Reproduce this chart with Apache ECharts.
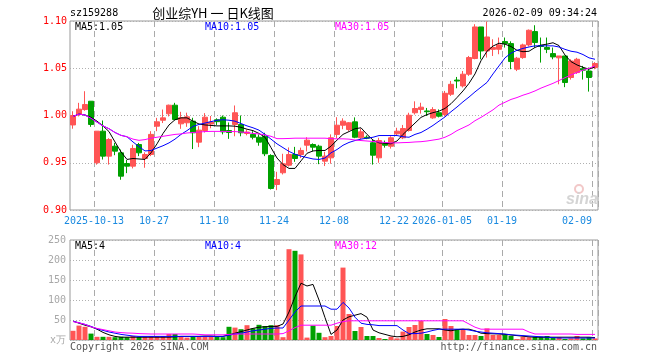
<!DOCTYPE html>
<html>
<head>
<meta charset="utf-8">
<script src="https://cdn.jsdelivr.net/npm/echarts@6/dist/echarts.min.js"></script>
<style>html,body{margin:0;padding:0;background:#fff;}#c{width:660px;height:360px;}</style>
</head>
<body>
<div id="c"></div>
<script>
const dates = ['2025-09-29','2025-09-30','2025-10-09','2025-10-10',
'2025-10-13','2025-10-14','2025-10-15','2025-10-16','2025-10-17',
'2025-10-20','2025-10-21','2025-10-22','2025-10-23','2025-10-24',
'2025-10-27','2025-10-28','2025-10-29','2025-10-30','2025-10-31',
'2025-11-03','2025-11-04','2025-11-05','2025-11-06','2025-11-07',
'2025-11-10','2025-11-11','2025-11-12','2025-11-13','2025-11-14',
'2025-11-17','2025-11-18','2025-11-19','2025-11-20','2025-11-21',
'2025-11-24','2025-11-25','2025-11-26','2025-11-27','2025-11-28',
'2025-12-01','2025-12-02','2025-12-03','2025-12-04','2025-12-05',
'2025-12-08','2025-12-09','2025-12-10','2025-12-11','2025-12-12',
'2025-12-15','2025-12-16','2025-12-17','2025-12-18','2025-12-19',
'2025-12-22','2025-12-23','2025-12-24','2025-12-25','2025-12-26',
'2025-12-29','2025-12-30','2025-12-31',
'2026-01-05','2026-01-06','2026-01-07','2026-01-08','2026-01-09',
'2026-01-12','2026-01-13','2026-01-14','2026-01-15','2026-01-16',
'2026-01-19','2026-01-20','2026-01-21','2026-01-22','2026-01-23',
'2026-01-26','2026-01-27','2026-01-28','2026-01-29','2026-01-30',
'2026-02-02','2026-02-03','2026-02-04','2026-02-05','2026-02-06',
'2026-02-09'];

const open = [0.990,1.001,1.0063,1.0151,0.950,0.9834,0.957,0.9675,0.9605,0.9492,
0.9464,0.9693,0.9545,0.9587,0.9887,0.995,1.0018,1.0109,0.9912,0.9923,
0.994,0.9718,0.9841,0.991,0.9955,0.9982,0.9841,0.9905,0.9905,0.981,
0.980,0.977,0.978,0.9577,0.927,0.9394,0.9474,0.9587,0.9587,0.9686,
0.9693,0.9675,0.9517,0.9552,0.980,0.9897,0.9852,0.9933,0.9764,0.977,
0.9711,0.9552,0.970,0.9675,0.9806,0.9764,0.9841,1.0029,1.0064,1.0048,
0.9975,1.0029,1.001,1.0225,1.0375,1.0313,1.0437,1.0603,1.0937,1.0683,
1.070,1.0701,1.0782,1.0761,1.049,1.0613,1.0747,1.0888,1.074,1.072,
1.0655,1.061,1.063,1.0402,1.0454,1.0495,1.0471,1.0507];

const close = [1.000,1.0067,1.0116,0.9905,0.9834,0.957,0.9746,0.9623,0.9358,0.9464,
0.9651,0.9605,0.9587,0.980,0.9933,0.9975,1.0109,0.9958,0.9976,0.9986,
0.9817,0.9845,0.9982,0.993,0.9935,0.9827,0.982,1.0029,0.9817,0.9825,
0.977,0.9718,0.9595,0.9228,0.9323,0.9489,0.9587,0.9545,0.963,0.9739,
0.9665,0.957,0.957,0.9764,0.9897,0.994,0.9923,0.977,0.9827,0.976,
0.958,0.9735,0.9685,0.9764,0.9834,0.9862,1.0003,1.0074,1.0088,1.004,
1.0063,0.9993,1.0235,1.033,1.0365,1.0437,1.0613,1.0937,1.0683,1.0831,
1.072,1.0747,1.0761,1.0571,1.0606,1.0747,1.0902,1.0772,1.073,1.070,
1.062,1.063,1.0349,1.0577,1.0595,1.048,1.0402,1.055];

const low = [0.986,0.999,1.005,0.988,0.948,0.9534,0.948,0.958,0.932,0.939,
0.944,0.957,0.9447,0.957,0.9834,0.992,0.999,0.995,0.9859,0.988,
0.9645,0.9665,0.982,0.9865,0.990,0.980,0.9753,0.978,0.978,0.979,
0.9747,0.968,0.957,0.9217,0.921,0.9376,0.946,0.951,0.955,0.962,
0.962,0.9485,0.9465,0.949,0.976,0.9855,0.9835,0.976,0.975,0.975,
0.948,0.950,0.966,0.965,0.979,0.975,0.983,1.001,1.002,0.9995,
0.9965,0.998,0.999,1.0207,1.0288,1.0296,1.0419,1.0595,1.0595,1.0613,
1.063,1.0648,1.0719,1.049,1.047,1.060,1.073,1.0719,1.056,1.066,
1.0595,1.033,1.030,1.038,1.044,1.038,1.0253,1.049];

const high = [1.0045,1.0134,1.0257,1.0151,0.9834,0.9947,0.976,0.971,0.964,0.953,
0.969,0.971,0.961,0.9834,0.9975,1.0063,1.0115,1.0134,1.0039,1.003,
0.9976,0.9887,1.0025,0.9995,0.997,1.000,0.9926,1.0106,1.000,0.985,
0.9834,0.980,0.9817,0.959,0.9404,0.9595,0.9662,0.9668,0.966,0.977,
0.9705,0.969,0.9616,0.980,0.9982,0.997,0.993,0.998,0.986,0.979,
0.9746,0.9764,0.9735,0.978,0.987,0.990,1.0029,1.015,1.0135,1.008,
1.0088,1.0064,1.026,1.0366,1.0408,1.0471,1.063,1.0966,1.0937,1.0995,
1.0807,1.0825,1.0825,1.0785,1.062,1.076,1.091,1.0955,1.0825,1.0825,
1.0719,1.063,1.063,1.0595,1.061,1.0525,1.0507,1.0565];

const ma5 = [0.999,1.0015,1.0005,0.998,0.994,0.989,0.983,0.972,0.9615,0.9535,
0.9545,0.954,0.9535,0.9605,0.970,0.981,0.990,0.9955,0.9975,0.9975,
0.994,0.991,0.990,0.9895,0.989,0.989,0.989,0.9887,0.9875,0.9855,
0.984,0.981,0.977,0.966,0.955,0.948,0.944,0.944,0.952,0.960,
0.9625,0.963,0.963,0.9675,0.974,0.980,0.983,0.986,0.987,0.980,
0.974,0.971,0.9706,0.970,0.973,0.980,0.986,0.992,0.998,1.001,
1.003,1.0046,1.0075,1.0125,1.019,1.026,1.034,1.044,1.058,1.068,
1.0735,1.0765,1.0755,1.073,1.069,1.0675,1.068,1.072,1.0745,1.0755,
1.077,1.074,1.064,1.057,1.0535,1.051,1.049,1.0515];

const ma10 = [0.999,1.0015,1.0005,0.997,0.993,0.989,0.986,0.982,0.979,0.9775,
0.972,0.967,0.9625,0.963,0.9655,0.968,0.971,0.975,0.980,0.984,
0.9885,0.9905,0.992,0.9935,0.995,0.9955,0.995,0.994,0.9915,0.989,
0.987,0.9845,0.980,0.975,0.970,0.966,0.962,0.959,0.957,0.9555,
0.954,0.9535,0.955,0.9605,0.964,0.9685,0.9715,0.9735,0.975,0.976,
0.977,0.9788,0.9788,0.9788,0.9788,0.9775,0.977,0.980,0.982,0.9855,
0.9895,0.994,0.9985,1.004,1.009,1.0145,1.0195,1.025,1.030,1.035,
1.044,1.0525,1.061,1.066,1.069,1.071,1.0725,1.0737,1.0737,1.0737,
1.0737,1.0725,1.070,1.068,1.067,1.0645,1.061,1.0595];

const ma30 = [0.999,1.0015,1.0005,0.997,0.993,0.989,0.986,0.982,0.979,0.9775,
0.975,0.9737,0.9745,0.976,0.977,0.978,0.979,0.980,0.9805,0.9815,
0.982,0.9825,0.983,0.9832,0.9832,0.9832,0.983,0.983,0.9825,0.982,
0.981,0.9805,0.9795,0.978,0.9755,0.9755,0.9757,0.976,0.976,0.976,
0.976,0.976,0.976,0.9755,0.9753,0.9753,0.975,0.974,0.9735,0.973,
0.9725,0.972,0.9715,0.971,0.971,0.9713,0.9715,0.972,0.9723,0.973,
0.974,0.975,0.977,0.980,0.984,0.987,0.990,0.9945,0.998,1.002,
1.006,1.011,1.014,1.017,1.019,1.0215,1.0235,1.026,1.029,1.0315,
1.034,1.037,1.040,1.043,1.0455,1.048,1.050,1.0525];

const volume = [23,36,33,16,8,8,8,7,8,7,
10,8,8,10,10,10,15,15,8,6,
8,8,8,8,8,7,33,31,27,37,
29,38,35,37,37,7,227,223,214,6,
36,18,7,10,35,181,65,22.5,32.5,10,
10,5,2.5,8,4,21,32.5,37.5,48,15,
12.5,7.5,52.5,35,27,27.5,12.5,12.5,10,29,
12.5,12.5,12.5,10,2.5,8,7,8,8,10,
7,7,2.5,4,10,4,7,4];

const volMa5 = [47,42,37,33,27,19,13,9,7,7,
7,7,7,7,7,7,7,8,9,9,
9,9,10,10,9,9,13,17,21,25,
29,32,33,34,34,40,70,108,142,135,
139,100,56,14,25,50,58,62,66,57,
25,18,14,10,8,9,13,20,25,28,
28,28,25,23,26,27,27,23,17,16,
15.5,15,14,12.5,11,9.5,8,7,7,7,
7,7,7,7,7,7,7,6];

const volMa10 = [47,43,39,34,28,24,20,17,14,12,
10,9,9,9,9,9,9,9,9,9,
9,9,9,9,9,9,12,15,17,20,
23,25,27,29,30,30,50,70,85,85,
85,85,85,77,77,94,80,57,42,39,
38,36,36,36,36,25,16,16,17,20,
24,27,27,27,27,27,25,22,20,18,
17,16,15,13,12,11,10,9,8,7,
6,5,5,5,5,5,5,5];

const volMa30 = [46,43,39,33,29,26,23,20,18.5,17.5,
17,16,15.5,15,15,15,15,15,15,15,
15,14,13,13,13,13,14,15,15,15,
15,15,15,15,15,16,23,31,37,37,
37,37,37,37,42,46,48,48,48,48,
48,48,48,48,48,48,48,48,48,48,
48,48,48,48,48,48,40,32,27,27,
27,27,27,27,27,27,20,15,15,15,
15,15,15,15,14,14,14,14];

const tickDates = ['2025-10-13','2025-10-27','2025-11-10','2025-11-24','2025-12-08','2025-12-22','2026-01-05','2026-01-19','2026-02-09'];
const tickLabels = ['2025-10-13','10-27','11-10','11-24','12-08','12-22','2026-01-05','01-19','02-09'];
const priceTicks = [0.90, 0.95, 1.00, 1.05, 1.10];
const volTicks = [0, 50, 100, 150, 200, 250];

const UP = '#ff5555', DOWN = '#00a000';
const MONO = '"DejaVu Sans Mono", "Liberation Mono", monospace';

const candles = dates.map((d, i) => [open[i], close[i], low[i], high[i]]);
const volBars = volume.map((v, i) => ({ value: v, itemStyle: { color: close[i] >= open[i] ? UP : DOWN } }));

const isTick = (idx, val) => tickDates.indexOf(val) >= 0;
const vSplit = { show: true, interval: isTick, lineStyle: { color: '#aaaaaa', type: [6, 4], width: 1 } };

function txt(text, x, y, color, opts) {
  opts = opts || {};
  return { type: 'text', x: x, y: y, silent: true, z: 100,
    style: { text: text, fill: color, font: opts.font || ('10px ' + MONO),
      align: opts.align || 'left', verticalAlign: 'middle' } };
}

const chart = echarts.init(document.getElementById('c'), null, { renderer: 'canvas' });
chart.setOption({
  animation: false,
  backgroundColor: '#ffffff',
  grid: [
    { left: 70, top: 21, width: 528, height: 189, show: true, borderColor: '#999999', borderWidth: 1 },
    { left: 70, top: 240, width: 528, height: 100, show: true, borderColor: '#999999', borderWidth: 1 }
  ],
  xAxis: [
    { type: 'category', gridIndex: 0, data: dates, boundaryGap: true,
      axisLine: { show: false }, axisTick: { show: false },
      splitLine: vSplit,
      axisLabel: { interval: isTick, margin: 6,
        formatter: function (v) {
          const k = tickDates.indexOf(v);
          if (k < 0) return '';
          return (k === tickDates.length - 1 ? '{e|' : '{c|') + tickLabels[k] + '}';
        },
        rich: {
          c: { padding: [0, 6, 0, 0], color: '#1a8ae0', fontFamily: MONO, fontSize: 10 },
          e: { padding: [0, 36, 0, 0], color: '#1a8ae0', fontFamily: MONO, fontSize: 10 }
        } } },
    { type: 'category', gridIndex: 1, data: dates, boundaryGap: true,
      axisLine: { show: false }, axisTick: { show: false }, axisLabel: { show: false },
      splitLine: vSplit }
  ],
  yAxis: [
    { type: 'value', gridIndex: 0, min: priceTicks[0], max: priceTicks[priceTicks.length - 1], interval: 0.05,
      axisLine: { show: false }, axisTick: { show: false },
      axisLabel: { margin: 3, color: '#ff0000', fontFamily: MONO, fontSize: 10,
        formatter: v => v.toFixed(2) },
      splitLine: { show: true, lineStyle: { color: '#b0b0b0', type: [1, 2], width: 1 } } },
    { type: 'value', gridIndex: 1, min: volTicks[0], max: volTicks[volTicks.length - 1], interval: 50,
      axisLine: { show: false }, axisTick: { show: false },
      axisLabel: { margin: 4, color: '#a8a8a8', fontFamily: MONO, fontSize: 10,
        formatter: v => (v === 0 ? 'x万' : String(v)) },
      splitLine: { show: true, lineStyle: { color: '#b0b0b0', type: [1, 2], width: 1 } } }
  ],
  series: [
    { type: 'candlestick', xAxisIndex: 0, yAxisIndex: 0, data: candles, barWidth: 5,
      itemStyle: { color: UP, color0: DOWN, borderColor: UP, borderColor0: DOWN, borderWidth: 1 } },
    { type: 'line', xAxisIndex: 0, yAxisIndex: 0, data: ma5, symbol: 'none', z: 3,
      lineStyle: { color: '#000000', width: 1 } },
    { type: 'line', xAxisIndex: 0, yAxisIndex: 0, data: ma10, symbol: 'none', z: 3,
      lineStyle: { color: '#0000ff', width: 1 } },
    { type: 'line', xAxisIndex: 0, yAxisIndex: 0, data: ma30, symbol: 'none', z: 3,
      lineStyle: { color: '#ff00ff', width: 1 } },
    { type: 'bar', xAxisIndex: 1, yAxisIndex: 1, data: volBars, barWidth: 5 },
    { type: 'line', xAxisIndex: 1, yAxisIndex: 1, data: volMa5, symbol: 'none', z: 3,
      lineStyle: { color: '#000000', width: 1 } },
    { type: 'line', xAxisIndex: 1, yAxisIndex: 1, data: volMa10, symbol: 'none', z: 3,
      lineStyle: { color: '#0000ff', width: 1 } },
    { type: 'line', xAxisIndex: 1, yAxisIndex: 1, data: volMa30, symbol: 'none', z: 3,
      lineStyle: { color: '#ff00ff', width: 1 } }
  ],
  graphic: [
    txt('sz159288', 70, 13, '#000000'),
    txt('创业综YH 一 日K线图', 213, 13, '#000000', { align: 'center', font: '13px "Noto Sans CJK SC", sans-serif' }),
    txt('2026-02-09 09:34:24', 597, 13, '#000000', { align: 'right' }),
    txt('MA5:1.05', 75, 27, '#000000'),
    txt('MA10:1.05', 205, 27, '#0000ff'),
    txt('MA30:1.05', 335, 27, '#ff00ff'),
    txt('MA5:4', 75, 246, '#000000'),
    txt('MA10:4', 205, 246, '#0000ff'),
    txt('MA30:12', 335, 246, '#ff00ff'),
    txt('Copyright 2026 SINA.COM', 70, 347, '#555555'),
    txt('http://finance.sina.com.cn', 597, 347, '#555555', { align: 'right' }),
    { type: 'circle', shape: { cx: 579, cy: 189, r: 4 }, silent: true, z: 1,
      style: { fill: 'none', stroke: '#f2c8c8', lineWidth: 2 } },
    txt('sina', 566, 200, '#d4d4d4', { font: 'italic bold 16px "Liberation Sans", sans-serif' })
  ]
});
</script>
</body>
</html>
